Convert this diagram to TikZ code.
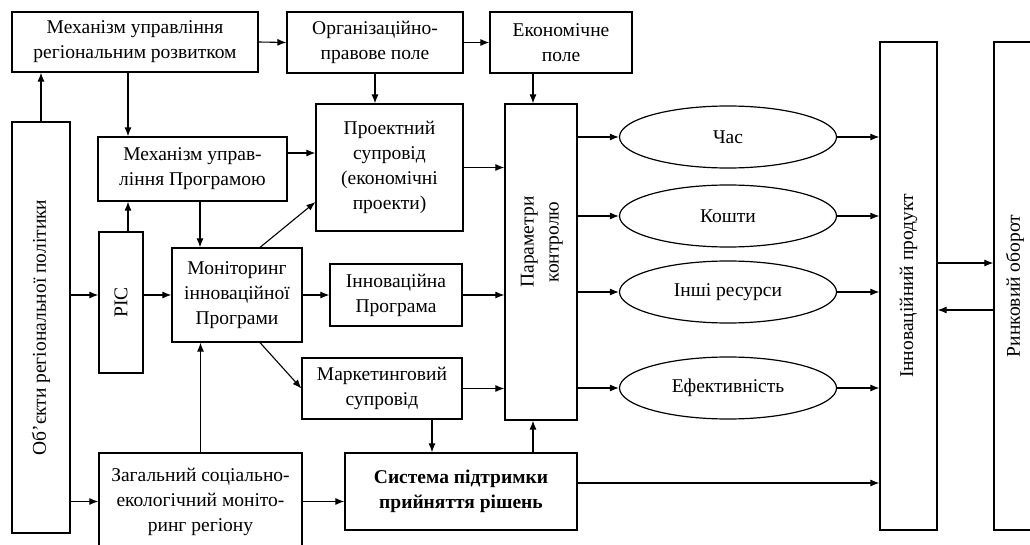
\documentclass[tikz,border=0pt]{standalone}
\usepackage{fontspec}
\setmainfont{Liberation Serif}
\usetikzlibrary{arrows.meta,shapes.geometric}

\tikzset{
  blk/.style={draw, line width=1.2pt, align=center, inner sep=2pt},
  ovl/.style={draw, ellipse, line width=1.2pt, minimum width=217pt, minimum height=62pt},
  arr/.style={-{Latex[length=9pt,width=7pt]}, line width=1.1pt},
}

\begin{document}
\begin{tikzpicture}[x=1pt,y=-1pt]
\fontsize{19.5}{25}\selectfont

\useasboundingbox (0,0) rectangle (1030,545); %% page

%% top row
\node[blk, minimum width=246pt, minimum height=60pt] (mreg) at (135,42)
  {Механізм управління\\регіональним розвитком};
\node[blk, minimum width=176pt, minimum height=61pt] (orgp) at (375,42.5)
  {Організаційно-\\правове поле};
\node[blk, minimum width=142pt, minimum height=61pt] (econ) at (561,42.5)
  {Економічне\\поле};

%% left part
\node[blk, minimum width=58pt, minimum height=411pt] (obj) at (41,327.5)
  {\rotatebox{90}{Об’єкти регіональної політики}};
\node[blk, minimum width=189pt, minimum height=64pt] (mprog) at (192.5,169)
  {Механізм управ-\\ління Програмою};
\node[blk, minimum width=44pt, minimum height=141pt] (ric) at (121,302.5)
  {\rotatebox{90}{РІС}};
\node[blk, minimum width=130pt, minimum height=94pt] (monit) at (237,295)
  {Моніторинг\\інноваційної\\Програми};
\node[blk, minimum width=203pt, minimum height=97pt] (gmon) at (200.5,501.5)
  {Загальний соціально-\\екологічний моніто-\\ринг регіону};

%% middle part
\node[blk, minimum width=147pt, minimum height=127pt] (proj) at (389.5,167.5)
  {Проектний\\супровід\\(економічні\\проекти)};
\node[blk, minimum width=132pt, minimum height=62pt] (inprog) at (396,295)
  {Інноваційна\\Програма};
\node[blk, minimum width=160pt, minimum height=61pt] (mark) at (382,388.5)
  {Маркетинговий\\супровід};
\node[blk, minimum width=232pt, minimum height=77pt, font=\bfseries] (dss) at (461,491.5)
  {Система підтримки\\прийняття рішень};
\node[blk, minimum width=72pt, minimum height=316pt] (param) at (541,262)
  {\rotatebox{90}{\hspace*{40pt}\begin{tabular}{@{}c@{}}Параметри\\контролю\end{tabular}}};

%% parameters
\node[ovl] (time) at (728,137) {Час};
\node[ovl] (cash) at (728,216) {Кошти};
\node[ovl] (res)  at (728,292) {Інші ресурси};
\node[ovl] (eff)  at (728,388) {Ефективність};

%% right part
\node[blk, minimum width=57pt, minimum height=488pt] (iprod) at (908.5,286)
  {\rotatebox{90}{Інноваційний продукт}};
\node[blk, minimum width=42pt, minimum height=488pt] (mkt) at (1015,286)
  {\rotatebox{90}{Ринковий оборот}};

%% arrows
\draw[arr] (mreg.east) -- (orgp.west);
\draw[arr] (orgp.east) -- (econ.west);
\draw[arr] (obj.north) -- (obj.north |- mreg.south);
\draw[arr] ([xshift=-7pt]mreg.south) -- ([xshift=-7pt]mreg.south |- mprog.north);
\draw[arr] (orgp.south) -- (orgp.south |- proj.north);
\draw[arr] ([xshift=-8pt]param.north |- econ.south) -- ([xshift=-8pt]param.north);
\draw[arr] ([yshift=16pt]mprog.east) -- ([yshift=16pt]mprog.east -| proj.west);
\draw[arr] ([xshift=7pt]ric.north) -- ([xshift=7pt]ric.north |- mprog.south);
\draw[arr] ([xshift=7.5pt]mprog.south) -- ([xshift=7.5pt]mprog.south |- monit.north);
\draw[arr] ([xshift=23pt]monit.north) -- ([yshift=-34.5pt]proj.west);
\draw[arr] ([xshift=23pt]monit.south) -- (mark.west);
\draw[arr] (obj.east |- monit.west) -- (ric.west |- monit.west);
\draw[arr] (ric.east |- monit.west) -- (monit.west);
\draw[arr] (monit.east) -- (inprog.west);
\draw[arr] (gmon.north) -- (gmon.north |- monit.south);
\draw[arr] (obj.east |- gmon.west) -- (gmon.west);
\draw[arr] (gmon.east) -- (gmon.east -| dss.west);
\draw[arr] (proj.east) -- (proj.east -| param.west);
\draw[arr] (inprog.east) -- (inprog.east -| param.west);
\draw[arr] (mark.east) -- (mark.east -| param.west);
\draw[arr] ([xshift=50pt]mark.south) -- ([xshift=50pt]mark.south |- dss.north);
\draw[arr] ([xshift=-8pt]param.south |- dss.north) -- ([xshift=-8pt]param.south);
\draw[arr] ([yshift=8.5pt]dss.east) -- ([yshift=8.5pt]dss.east -| iprod.west);
\foreach \p in {time,cash,res,eff}{
  \draw[arr] (param.east |- \p.west) -- (\p.west);
  \draw[arr] (\p.east) -- (\p.east -| iprod.west);
}
\draw[arr] ([yshift=23pt]iprod.east) -- ([yshift=23pt]iprod.east -| mkt.west);
\draw[arr] ([yshift=-24pt]mkt.west) -- ([yshift=-24pt]mkt.west -| iprod.east);

\end{tikzpicture}
\end{document}
